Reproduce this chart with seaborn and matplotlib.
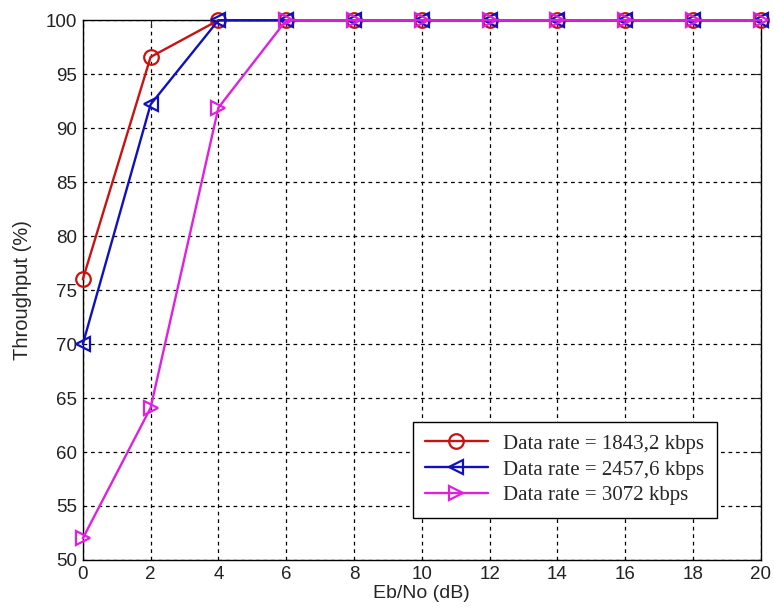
import numpy as np
import pandas as pd
import matplotlib
matplotlib.use("Agg")
import matplotlib.pyplot as plt
import seaborn as sns

ebno = [0, 2, 4, 6, 8, 10, 12, 14, 16, 18, 20]
thr_1843 = [76, 96.6, 100, 100, 100, 100, 100, 100, 100, 100, 100]
thr_2457 = [70, 92.2, 100, 100, 100, 100, 100, 100, 100, 100, 100]
thr_3072 = [52, 64.1, 91.9, 100, 100, 100, 100, 100, 100, 100, 100]
labels = ["Data rate = 1843,2 kbps", "Data rate = 2457,6 kbps", "Data rate = 3072 kbps"]

sns.set_style("white")
plt.rcParams['font.family'] = ['Liberation Sans', 'DejaVu Sans']

df = pd.concat([
    pd.DataFrame({"ebno": ebno, "thr": thr_1843, "rate": labels[0]}),
    pd.DataFrame({"ebno": ebno, "thr": thr_2457, "rate": labels[1]}),
    pd.DataFrame({"ebno": ebno, "thr": thr_3072, "rate": labels[2]}),
])

colors = ["#cc1111", "#1010c0", "#e020e0"]
marks = ["o", "<", ">"]

fig = plt.figure(figsize=(7.74, 6.14), dpi=100)
ax = fig.add_axes([0.107, 0.088, 0.876, 0.879])

for lab, c, m in zip(labels, colors, marks):
    sub = df[df["rate"] == lab]
    sns.lineplot(data=sub, x="ebno", y="thr", ax=ax, color=c, marker=m,
                 markersize=10.5, markerfacecolor="none", markeredgecolor=c,
                 markeredgewidth=1.6, linewidth=1.7, label=lab, clip_on=False,
                 zorder=3)

ax.set_xlim(0, 20)
ax.set_ylim(50, 100)
ax.set_xticks(np.arange(0, 21, 2))
ax.set_yticks(np.arange(50, 101, 5))
ax.grid(True, color="black", linestyle=(0, (3, 3)), linewidth=0.9)
ax.tick_params(direction="in", length=5, labelsize=13.5, top=True, right=True,
               colors="#222222", pad=4)
for s in ax.spines.values():
    s.set_color("black")
    s.set_linewidth(1.0)
ax.set_xlabel("Eb/No (dB)", fontsize=14, labelpad=2)
ax.set_ylabel("Throughput (%)", fontsize=14.5, labelpad=10)

leg = ax.legend(loc="lower right", bbox_to_anchor=(0.935, 0.078), frameon=True,
                fancybox=False, edgecolor="black", framealpha=1,
                prop={"family": "Liberation Serif", "size": 15},
                handlelength=3.0, labelspacing=0.3, borderpad=0.6,
                handletextpad=0.75, borderaxespad=0)
leg.get_frame().set_linewidth(1.0)

fig.savefig("out.png", dpi=100)
